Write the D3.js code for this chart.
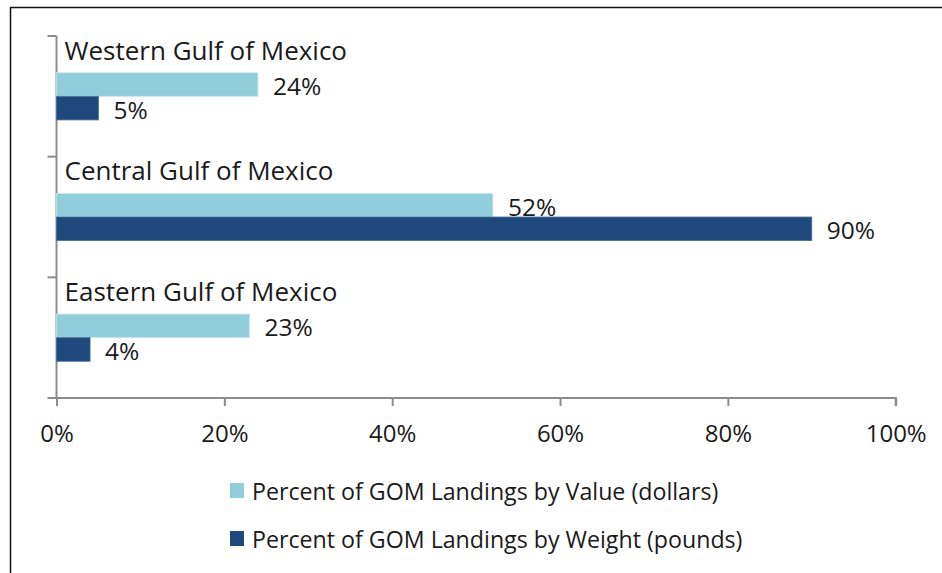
<!DOCTYPE html>
<html>
<head>
<meta charset="utf-8">
<script src="https://cdn.jsdelivr.net/npm/d3@7/dist/d3.min.js"></script>
<style>
  html, body { margin: 0; padding: 0; background: #fff; }
  svg { display: block; }
  text { font-family: "Open Sans", sans-serif; fill: #1a1a1a; }
</style>
</head>
<body>
<svg id="chart" width="942" height="573"></svg>
<script>
// Gulf of Mexico landings share by region
const regions = ["Western Gulf of Mexico", "Central Gulf of Mexico", "Eastern Gulf of Mexico"];
const valueShare = [24, 52, 23];   // percent of GOM landings by value (dollars)
const weightShare = [5, 90, 4];    // percent of GOM landings by weight (pounds)
const seriesNames = ["Percent of GOM Landings by Value (dollars)", "Percent of GOM Landings by Weight (pounds)"];
const seriesColors = ["#92CDDC", "#1F497D"];
const xTicks = [0, 20, 40, 60, 80, 100];

const svg = d3.select("#chart");

// frame lines (top and left)
svg.append("line").attr("x1", 10.5).attr("x2", 942).attr("y1", 7.5).attr("y2", 7.5)
  .attr("stroke", "#111").attr("stroke-width", 1.5);
svg.append("line").attr("x1", 10.5).attr("x2", 10.5).attr("y1", 7).attr("y2", 573)
  .attr("stroke", "#111").attr("stroke-width", 1.5);

const plot = { left: 56.5, right: 895.7, top: 36, bottom: 398 };

const x = d3.scaleLinear().domain([0, 100]).range([plot.left, plot.right]);
const y = d3.scaleBand().domain(regions).range([plot.top, plot.bottom]);
const barH = 23.6;

const rows = regions.map((r, i) => ({ region: r, values: [valueShare[i], weightShare[i]] }));

const axisColor = "#8c8c8c";

// x axis
const xAxis = svg.append("g").attr("transform", `translate(0,${plot.bottom})`)
  .call(d3.axisBottom(x).tickValues(xTicks).tickSize(8).tickPadding(19).tickFormat(d => d + "%"));
xAxis.select(".domain").attr("stroke", axisColor).attr("stroke-width", 2).attr("d", `M${plot.left - 9},0H${plot.right}V8`);
xAxis.selectAll(".tick line").attr("stroke", axisColor).attr("stroke-width", 2);
xAxis.selectAll(".tick text").attr("font-size", 24).attr("font-family", "'Open Sans', sans-serif").attr("fill", "#1a1a1a");

// y axis with boundary ticks between categories
const yAxisG = svg.append("g");
yAxisG.append("line").attr("x1", plot.left).attr("x2", plot.left).attr("y1", plot.top).attr("y2", plot.bottom)
  .attr("stroke", axisColor).attr("stroke-width", 2);
const bounds = regions.map(r => y(r));
yAxisG.selectAll("line.tk").data(bounds).join("line").attr("class", "tk")
  .attr("x1", plot.left - 9).attr("x2", plot.left).attr("y1", d => d).attr("y2", d => d)
  .attr("stroke", axisColor).attr("stroke-width", 2);

// bars
const groups = svg.selectAll("g.row").data(rows).join("g").attr("class", "row");
groups.each(function (d) {
  const g = d3.select(this);
  const mid = y(d.region) + y.bandwidth() / 2;
  d.values.forEach((v, j) => {
    const top = mid - barH + j * barH;
    g.append("rect")
      .attr("x", x(0)).attr("y", top)
      .attr("width", x(v) - x(0)).attr("height", barH)
      .attr("fill", seriesColors[j])
      .attr("stroke", j === 0 ? "#c9e6ee" : "#4a6f9b").attr("stroke-width", 0.8);
    g.append("text")
      .attr("x", x(v) + 15).attr("y", top + barH / 2 + 1)
      .attr("dominant-baseline", "central")
      .attr("font-size", 24.5)
      .text(v + "%");
  });
  g.append("text")
    .attr("x", x(0) + 8).attr("y", mid - barH - 13)
    .attr("font-size", 26)
    .text(d.region);
});

// legend
const legend = svg.append("g");
const legendY = [490, 538];
seriesNames.forEach((name, i) => {
  legend.append("rect").attr("x", 230).attr("y", legendY[i] - 7).attr("width", 14).attr("height", 15)
    .attr("fill", seriesColors[i]);
  legend.append("text").attr("x", 252).attr("y", legendY[i] + 1).attr("dominant-baseline", "central")
    .attr("font-size", 23.2).text(name);
});
</script>
</body>
</html>
